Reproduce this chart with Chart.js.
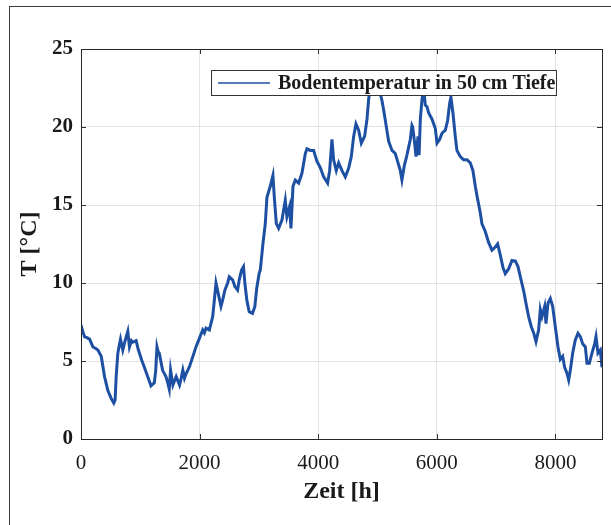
<!DOCTYPE html>
<html>
<head>
<meta charset="utf-8">
<script src="https://cdn.jsdelivr.net/npm/chart.js@4.4.0/dist/chart.umd.min.js"></script>
<style>
  html, body { margin: 0; padding: 0; background: #fff; }
  #wrap { position: relative; width: 611px; height: 525px; overflow: hidden; }
  #frame { position: absolute; left: 9px; top: 6px; width: 700px; height: 600px;
           border-left: 1px solid #3a3a3a; border-top: 1px solid #3a3a3a; }
  #chart { position: absolute; left: 0; top: 0; }
</style>
</head>
<body>
<div id="wrap">
  <div id="frame"></div>
  <canvas id="chart" width="611" height="525"></canvas>
</div>
<script>
// soil temperature at 50 cm depth over one (leap) year, hourly index
const hours = [
  0, 30, 61, 100, 145, 201, 250, 285, 341, 397, 453, 509, 553, 575, 593, 621, 645, 666, 705, 744,
  789, 817, 850, 873, 929, 968, 1024, 1068, 1124, 1180, 1236, 1260, 1281, 1300, 1320, 1376, 1432, 1465, 1488, 1510,
  1549, 1605, 1661, 1690, 1717, 1745, 1773, 1829, 1885, 1940, 1996, 2052, 2080, 2108, 2164, 2220, 2248, 2276, 2315, 2360,
  2388, 2427, 2472, 2500, 2556, 2595, 2640, 2668, 2707, 2740, 2763, 2796, 2836, 2892, 2931, 2964, 3003, 3023, 3068, 3107,
  3135, 3191, 3236, 3259, 3293, 3332, 3388, 3444, 3472, 3517, 3540, 3574, 3613, 3669, 3725, 3782, 3810, 3866, 3922, 3978,
  4034, 4091, 4158, 4192, 4231, 4259, 4304, 4344, 4400, 4456, 4512, 4557, 4597, 4636, 4681, 4726, 4782, 4822, 4850, 4880,
  4930, 4980, 5030, 5074, 5102, 5140, 5186, 5243, 5299, 5338, 5384, 5411, 5450, 5495, 5552, 5580, 5592, 5625, 5648, 5682,
  5700, 5721, 5748, 5776, 5805, 5833, 5862, 5918, 5974, 6002, 6046, 6086, 6142, 6181, 6215, 6237, 6271, 6310, 6338, 6395,
  6451, 6507, 6563, 6608, 6648, 6676, 6732, 6760, 6816, 6872, 6929, 6985, 7024, 7069, 7114, 7153, 7209, 7266, 7323, 7368,
  7407, 7463, 7502, 7547, 7592, 7632, 7671, 7716, 7744, 7772, 7817, 7840, 7873, 7913, 7952, 7997, 8042, 8081, 8121, 8154,
  8194, 8222, 8250, 8289, 8334, 8379, 8419, 8458, 8503, 8531, 8570, 8615, 8660, 8683, 8716, 8756, 8784
];
const temps = [
  7.3, 6.9, 6.55, 6.5, 6.4, 5.9, 5.8, 5.7, 5.3, 4.0, 3.1, 2.6, 2.3, 2.5, 4.0, 5.5, 6.0, 6.4, 5.7, 6.3,
  6.9, 5.9, 6.3, 6.2, 6.3, 5.7, 5.05, 4.6, 4.0, 3.4, 3.6, 4.4, 5.9, 5.6, 5.5, 4.4, 4.0, 3.57, 3.2, 4.42,
  3.46, 4.0, 3.46, 3.9, 4.42, 3.9, 4.2, 4.63, 5.28, 5.92, 6.45, 6.99, 6.8, 7.1, 6.99, 7.84, 8.9, 10.0, 9.3, 8.5,
  8.9, 9.55, 10.0, 10.4, 10.2, 9.77, 9.55, 10.2, 10.83, 11.05, 10.0, 8.9, 8.16, 8.05, 8.5, 9.7, 10.6, 10.83, 12.54, 13.8,
  15.5, 16.2, 16.9, 15.5, 13.8, 13.5, 14.04, 15.3, 14.25, 14.9, 13.5, 16.2, 16.6, 16.4, 17.03, 18.3, 18.6, 18.5, 18.5, 17.8,
  17.4, 16.8, 16.4, 17.2, 19.2, 17.9, 17.2, 17.7, 17.2, 16.8, 17.35, 18.1, 19.4, 20.2, 19.8, 18.96, 19.4, 20.5, 21.8, 22.6,
  23.0, 22.8, 22.4, 21.7, 21.1, 20.2, 19.1, 18.5, 18.3, 17.8, 17.2, 16.6, 17.5, 18.2, 19.2, 20.1, 20.0, 19.0, 18.1, 19.4,
  18.2, 20.5, 21.7, 22.5, 21.4, 21.3, 20.9, 20.5, 19.9, 18.96, 19.2, 19.6, 19.8, 20.4, 21.5, 21.9, 20.9, 19.4, 18.5, 18.1,
  17.9, 17.9, 17.7, 17.2, 16.2, 15.6, 14.5, 13.8, 13.3, 12.6, 12.1, 12.3, 12.5, 11.8, 11.0, 10.6, 10.9, 11.45, 11.4, 11.05,
  10.4, 9.5, 8.7, 7.85, 7.2, 6.8, 6.24, 7.0, 8.3, 7.85, 8.5, 7.4, 8.7, 9.0, 8.5, 7.2, 5.9, 5.1, 5.3, 4.6,
  4.2, 3.78, 4.4, 5.5, 6.35, 6.77, 6.56, 6.1, 5.9, 4.85, 4.85, 5.5, 6.1, 6.56, 5.5, 5.7, 4.6
];
const xTicks = [0, 2000, 4000, 6000, 8000];
const yTicks = [0, 5, 10, 15, 20, 25];
const seriesName = 'Bodentemperatur in 50 cm Tiefe';

const LINE_BLUE = '#1d4fa3';
const SERIF = '"Liberation Serif", "Times New Roman", serif';

// axes box with inward tick marks on all four sides, drawn over the data
const boxPlugin = {
  id: 'box',
  afterDatasetsDraw(chart) {
    const { ctx, chartArea: a, scales } = chart;
    ctx.save();
    ctx.strokeStyle = '#333';
    ctx.lineWidth = 1;
    ctx.beginPath();
    xTicks.forEach(v => {
      const x = Math.round(scales.x.getPixelForValue(v)) + 0.5;
      ctx.moveTo(x, a.bottom); ctx.lineTo(x, a.bottom - 5);
      ctx.moveTo(x, a.top); ctx.lineTo(x, a.top + 5);
    });
    yTicks.forEach(v => {
      const y = Math.round(scales.y.getPixelForValue(v)) + 0.5;
      ctx.moveTo(a.left, y); ctx.lineTo(a.left + 5, y);
      ctx.moveTo(a.right, y); ctx.lineTo(a.right - 5, y);
    });
    ctx.stroke();
    ctx.strokeStyle = '#262626';
    ctx.strokeRect(Math.round(a.left) + 0.5, Math.round(a.top) + 0.5,
                   Math.round(a.right - a.left), Math.round(a.bottom - a.top));
    ctx.restore();
  }
};

// legend box sitting inside the plot, covering the line beneath it
const legendPlugin = {
  id: 'innerLegend',
  afterDatasetsDraw(chart) {
    const { ctx, chartArea: a } = chart;
    const left = a.left + 130, top = a.top + 21, w = 345, h = 25;
    ctx.save();
    ctx.fillStyle = '#fff';
    ctx.fillRect(left, top, w, h);
    ctx.strokeStyle = '#333';
    ctx.lineWidth = 1;
    ctx.strokeRect(left + 0.5, top + 0.5, w, h);
    ctx.strokeStyle = LINE_BLUE;
    ctx.lineWidth = 1.5;
    ctx.beginPath();
    ctx.moveTo(left + 7, top + h / 2 + 0.5);
    ctx.lineTo(left + 59, top + h / 2 + 0.5);
    ctx.stroke();
    ctx.fillStyle = '#1a1a1a';
    ctx.font = 'bold 20px ' + SERIF;
    ctx.textBaseline = 'middle';
    ctx.fillText(seriesName, left + 67, top + h / 2 + 1);
    ctx.restore();
  }
};

new Chart(document.getElementById('chart'), {
  type: 'line',
  data: {
    datasets: [{
      label: seriesName,
      data: hours.map((h, i) => ({ x: h, y: temps[i] })),
      borderColor: LINE_BLUE,
      borderWidth: 3,
      pointRadius: 0,
      tension: 0,
      fill: false
    }]
  },
  options: {
    responsive: false,
    animation: false,
    events: [],
    layout: { padding: { top: 49, right: 9, left: 0, bottom: 0 } },
    plugins: { legend: { display: false }, tooltip: { enabled: false } },
    scales: {
      x: {
        type: 'linear',
        min: 0,
        max: 8784,
        afterBuildTicks: s => { s.ticks = xTicks.map(v => ({ value: v })); },
        afterFit: s => { s.height = 86; },
        grid: { color: '#e3e3e3', lineWidth: 1, drawTicks: false },
        border: { display: false },
        ticks: {
          padding: 12,
          color: '#1a1a1a',
          font: { family: SERIF, size: 21, weight: 'normal' },
          callback: v => String(v)
        },
        title: {
          display: true,
          text: 'Zeit [h]',
          color: '#1a1a1a',
          font: { family: SERIF, size: 24, weight: 'bold', lineHeight: 1 },
          padding: { top: 0, bottom: 21 }
        }
      },
      y: {
        min: 0,
        max: 25,
        afterBuildTicks: s => { s.ticks = yTicks.map(v => ({ value: v })); },
        afterFit: s => { s.width = 81; },
        grid: { color: '#e3e3e3', lineWidth: 1, drawTicks: false },
        border: { display: false },
        ticks: {
          padding: 8,
          color: '#1a1a1a',
          font: { family: SERIF, size: 21, weight: 'bold' },
          callback: v => String(v)
        },
        title: {
          display: true,
          text: 'T [°C]',
          color: '#1a1a1a',
          font: { family: SERIF, size: 24, weight: 'bold', lineHeight: 1 },
          padding: { top: 18, bottom: 0 }
        }
      }
    }
  },
  plugins: [boxPlugin, legendPlugin]
});
</script>
</body>
</html>
